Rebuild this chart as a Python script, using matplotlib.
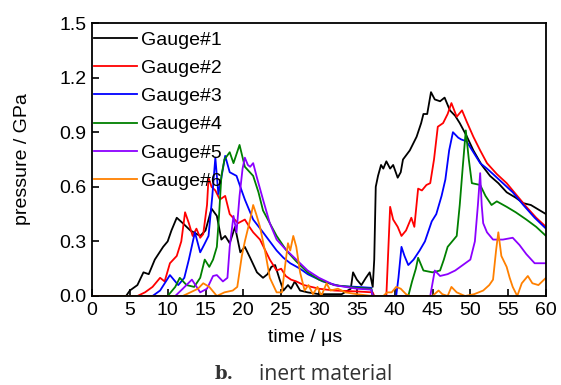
import matplotlib
matplotlib.use("Agg")
import matplotlib.pyplot as plt

# (time in us, pressure in GPa)
gauge1 = [(0, 0), (4.5, 0), (5, 0.03), (6, 0.06), (6.8, 0.13), (7.5, 0.12), (8.3, 0.2), (9.4, 0.27),
          (10, 0.3), (10.5, 0.36), (11.2, 0.43), (12, 0.40), (12.5, 0.38), (13, 0.36), (14.3, 0.33),
          (15, 0.36), (15.8, 0.48), (16.5, 0.44), (17.1, 0.31), (17.6, 0.33), (18.2, 0.29), (18.9, 0.38),
          (19.6, 0.24), (20.2, 0.27), (20.9, 0.21), (21.8, 0.13), (22.6, 0.10), (23.2, 0.12), (23.7, 0.16),
          (24.2, 0.17), (24.8, 0.09), (25.3, 0.03), (25.9, 0.06), (26.3, 0.04), (26.8, 0.08), (27.5, 0.03),
          (28.5, 0.02), (30, 0.01), (33, 0.01), (34.2, 0.04), (34.5, 0.13), (35, 0.09), (35.6, 0.06),
          (36.2, 0.1), (36.7, 0.13), (37.1, 0.05), (37.3, 0.2), (37.5, 0.6), (37.8, 0.66), (38.2, 0.72),
          (38.5, 0.70), (38.9, 0.74), (39.4, 0.70), (39.8, 0.72), (40.4, 0.65), (40.8, 0.68), (41.1, 0.75),
          (42, 0.80), (42.9, 0.875), (43.5, 0.95), (43.8, 1.0), (44.3, 1.0), (44.8, 1.12), (45.3, 1.08),
          (46, 1.07), (46.6, 1.09), (47.3, 1.02), (48, 0.99), (48.6, 0.95), (49.5, 0.88), (50.4, 0.8),
          (51.5, 0.72), (52.6, 0.66), (53.7, 0.62), (54.8, 0.57), (56, 0.54), (57, 0.51), (58, 0.5),
          (59.2, 0.47), (60, 0.45)]

gauge2 = [(0, 0), (6, 0), (7, 0.02), (8, 0.05), (9, 0.1), (9.6, 0.08), (10.3, 0.18), (11.2, 0.22),
          (11.8, 0.3), (12.3, 0.46), (12.8, 0.4), (13.3, 0.33), (13.8, 0.37), (14.3, 0.32), (14.7, 0.34),
          (15.2, 0.5), (15.4, 0.65), (15.8, 0.6), (16.3, 0.58), (16.9, 0.53), (17.6, 0.55), (18.2, 0.45),
          (19.3, 0.40), (20.2, 0.42), (20.8, 0.38), (21.3, 0.35), (22.2, 0.31), (23.5, 0.2), (24.4, 0.14),
          (25, 0.15), (25.6, 0.11), (26.3, 0.09), (27, 0.08), (28, 0.06), (29, 0.05), (30, 0.04),
          (32, 0.03), (35, 0.025), (37.1, 0.02), (37.3, 0), (38.9, 0), (39.4, 0.49), (39.8, 0.42),
          (40.4, 0.38), (40.9, 0.33), (41.5, 0.36), (42.2, 0.43), (42.6, 0.38), (43.1, 0.59), (43.6, 0.58),
          (44.2, 0.61), (44.7, 0.62), (45.2, 0.75), (45.7, 0.93), (46.4, 0.95), (47.0, 1.0), (47.5, 1.06),
          (48.2, 0.985), (48.9, 1.02), (49.5, 0.96), (50.4, 0.875), (51.3, 0.8), (52.2, 0.73), (53.5, 0.67),
          (54.8, 0.62), (56, 0.56), (57.4, 0.49), (58.7, 0.43), (60, 0.38)]

gauge3 = [(0, 0), (8, 0), (9, 0.03), (10.3, 0.115), (11.4, 0.06), (12.2, 0.1), (12.8, 0.2), (13.6, 0.35),
          (14.3, 0.24), (14.8, 0.28), (15.4, 0.33), (15.9, 0.55), (16.3, 0.76), (16.7, 0.56), (17.1, 0.65),
          (17.6, 0.77), (18.2, 0.68), (19.1, 0.66), (19.6, 0.6), (20.2, 0.53), (21.3, 0.42), (22.6, 0.35),
          (23.5, 0.3), (24.4, 0.25), (25.3, 0.21), (26.2, 0.18), (27.5, 0.15), (28.5, 0.12), (30.5, 0.08),
          (32.7, 0.055), (35, 0.05), (36.9, 0.045), (37.1, 0.0), (40.2, 0), (40.5, 0.1), (40.9, 0.27),
          (41.3, 0.22), (41.8, 0.17), (42.5, 0.2), (43.3, 0.25), (44, 0.3), (44.9, 0.41), (45.5, 0.45),
          (46.2, 0.55), (46.7, 0.64), (47.2, 0.8), (47.7, 0.90), (48.4, 0.87), (48.8, 0.86), (49.5, 0.85),
          (50.4, 0.79), (51.3, 0.73), (52.2, 0.7), (53, 0.67), (54.3, 0.62), (55.6, 0.57), (57, 0.5),
          (58.5, 0.43), (60, 0.37)]

gauge4 = [(0, 0), (10, 0), (11, 0.05), (11.6, 0.1), (12.5, 0.06), (13.5, 0.05), (14.3, 0.1), (14.9, 0.2),
          (15.5, 0.16), (16, 0.2), (16.5, 0.27), (16.8, 0.45), (17.1, 0.66), (17.5, 0.75), (18.2, 0.79),
          (18.7, 0.73), (19.1, 0.78), (19.5, 0.83), (20.2, 0.71), (21.3, 0.66), (22, 0.57), (22.6, 0.47),
          (23.5, 0.4), (24.4, 0.33), (25.7, 0.25), (27, 0.19), (28.5, 0.13), (30, 0.09), (32, 0.06),
          (35, 0.045), (36.9, 0.04), (37.1, 0), (41.8, 0), (42.3, 0.08), (42.8, 0.15), (43.1, 0.21),
          (43.8, 0.14), (45, 0.13), (46, 0.14), (46.5, 0.2), (47, 0.27), (47.6, 0.3), (48.2, 0.33),
          (48.6, 0.5), (49, 0.71), (49.4, 0.91), (49.8, 0.75), (50.2, 0.62), (51.3, 0.61), (52, 0.55),
          (52.8, 0.5), (53.5, 0.52), (54.8, 0.49), (56, 0.46), (57.4, 0.42), (58.7, 0.38), (60, 0.33)]

gauge5 = [(0, 0), (11, 0), (12, 0.04), (13.2, 0.09), (14.3, 0.02), (15.2, 0.04), (16, 0.11), (16.5, 0.115),
          (17.3, 0.08), (17.9, 0.1), (18.2, 0.27), (18.7, 0.44), (19.1, 0.35), (19.5, 0.55), (19.9, 0.7),
          (20.2, 0.76), (20.6, 0.72), (20.9, 0.71), (21.3, 0.73), (21.8, 0.65), (22.6, 0.53), (23.5, 0.4),
          (24.4, 0.31), (25.5, 0.26), (26.5, 0.22), (27.5, 0.18), (28.5, 0.14), (30, 0.1), (32, 0.06),
          (35, 0.04), (36.9, 0.035), (37.1, 0), (44.7, 0), (45, 0.07), (45.3, 0.14), (46, 0.11), (47, 0.12),
          (48, 0.14), (49, 0.17), (50, 0.2), (50.6, 0.3), (51, 0.5), (51.3, 0.675), (51.5, 0.5),
          (51.7, 0.40), (52.2, 0.35), (53, 0.31), (54.3, 0.31), (55.6, 0.32), (56.5, 0.28), (57.4, 0.23),
          (58.5, 0.18), (60, 0.18)]

gauge6 = [(0, 0), (12, 0), (13, 0.02), (14, 0.04), (14.7, 0.07), (15.5, 0.05), (16.5, 0.0), (17.5, 0.02),
          (18.6, 0.03), (19.2, 0.05), (19.8, 0.22), (20.2, 0.3), (20.9, 0.42), (21.3, 0.5), (21.7, 0.45),
          (22.2, 0.38), (22.9, 0.24), (23.5, 0.10), (24.4, 0.02), (25.1, 0.02), (25.5, 0.16), (25.9, 0.29),
          (26.2, 0.25), (26.6, 0.33), (27, 0.27), (27.5, 0.13), (28.1, 0.03), (28.6, 0.06), (29.2, 0.01),
          (29.8, 0.05), (30.3, 0.0), (31, 0.07), (31.5, 0.03), (32.5, 0.04), (33.5, 0.02), (35, 0.01),
          (37, 0), (38.5, 0), (39, 0.02), (39.6, 0.02), (40.2, 0.05), (40.8, 0.04), (41.5, 0.01), (42, 0),
          (45, 0), (45.8, 0.03), (46.3, 0.01), (47, 0.0), (47.5, 0.05), (48.2, 0.02), (49.3, 0),
          (50.5, 0.01), (51.7, 0.03), (52.5, 0.06), (53, 0.09), (53.4, 0.25), (53.7, 0.35), (54.1, 0.22),
          (54.8, 0.16), (55.2, 0.1), (55.6, 0.05), (56.2, 0.0), (56.8, 0.07), (57.6, 0.11), (58.2, 0.07),
          (59, 0.06), (60, 0.1)]

gauges = [gauge1, gauge2, gauge3, gauge4, gauge5, gauge6]
labels = ["Gauge#1", "Gauge#2", "Gauge#3", "Gauge#4", "Gauge#5", "Gauge#6"]
colors = ["#000000", "#ff0000", "#0000ff", "#008000", "#8b00ff", "#ff8000"]

x_ticks = list(range(0, 61, 5))
y_ticks = [0.0, 0.3, 0.6, 0.9, 1.2, 1.5]

plt.rcParams["font.family"] = ["Liberation Sans", "DejaVu Sans"]

fig = plt.figure(figsize=(5.61, 3.85), dpi=100)
ax = fig.add_axes([92 / 561, 1 - 296 / 385, 454 / 561, 273 / 385])

for g, lab, c in zip(gauges, labels, colors):
    t = [p[0] for p in g]
    v = [p[1] for p in g]
    ax.plot(t, v, color=c, lw=1.3, label=lab)

ax.set_xlim(0, 60)
ax.set_ylim(0, 1.5)
ax.set_xticks(x_ticks)
ax.set_yticks(y_ticks)
ax.set_yticklabels(["%.1f" % y for y in y_ticks])
ax.tick_params(direction="in", length=5, width=1.2, labelsize=14, pad=4)
ax.tick_params(top=False, right=False)
for s in ax.spines.values():
    s.set_linewidth(1.3)

ax.set_xlabel("time / μs", fontsize=14)
ax.set_ylabel("pressure / GPa", fontsize=14)
ax.xaxis.set_label_coords(0.469, -0.12)
ax.yaxis.set_label_coords(-0.135, 0.5)

ax.legend(loc="upper left", bbox_to_anchor=(0, 0.978), frameon=False, fontsize=14,
          handlelength=2.2, handletextpad=0.2, labelspacing=0.55,
          borderpad=0.1, borderaxespad=0.0)

fig.text(215 / 561, 1 - 374 / 385, "b.", family="DejaVu Serif", weight="bold",
         fontsize=13, color="#333333", va="center", ha="left")
fig.text(259 / 561, 1 - 374 / 385, "inert material", family="Open Sans",
         fontsize=15.2, color="#333333", va="center", ha="left")

fig.savefig("out.png", dpi=100)
